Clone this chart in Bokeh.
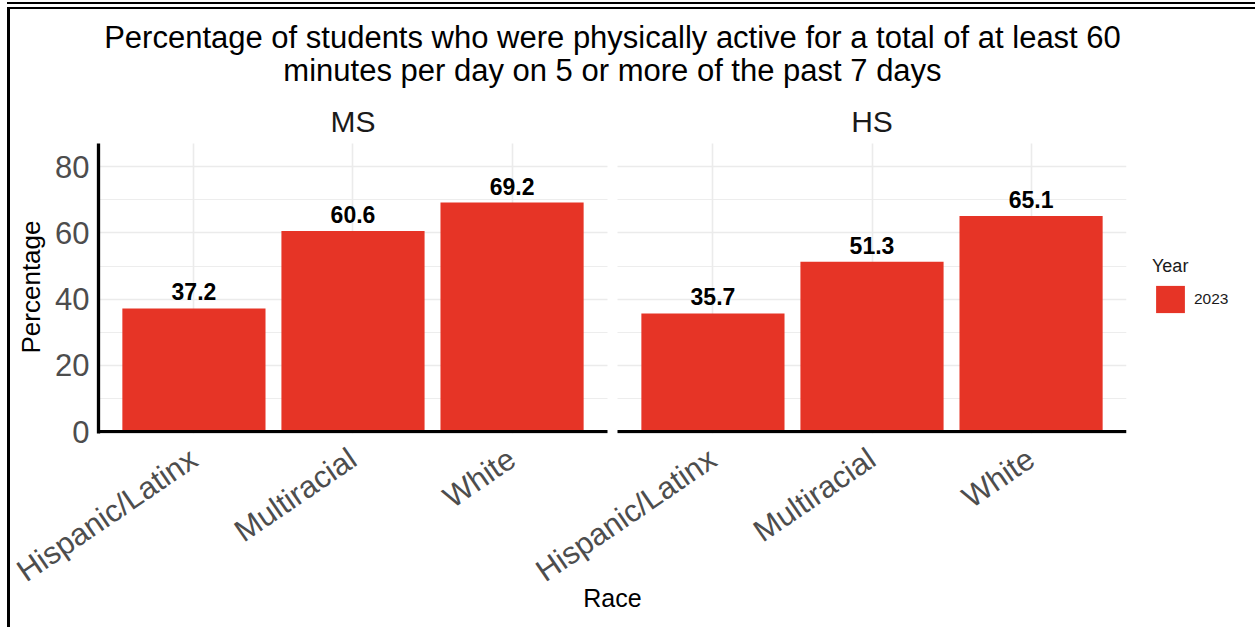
from bokeh.plotting import figure
from bokeh.layouts import column
from bokeh.models import (FactorRange, Range1d, ColumnDataSource, LabelSet, Legend,
                          LegendItem, FixedTicker, Title)
from bokeh.core.properties import value
from bokeh.embed import file_html
from bokeh.resources import INLINE

# ---------------- data ----------------
title_lines = ["Percentage of students who were physically active for a total of at least 60",
               "minutes per day on 5 or more of the past 7 days"]
panels = ["MS", "HS"]
races = ["Hispanic/Latinx", "Multiracial", "White"]
ms_values = [37.2, 60.6, 69.2]
hs_values = [35.7, 51.3, 65.1]
year_label = "2023"
legend_title = "Year"
x_title = "Race"
y_title = "Percentage"
y_ticks = [0, 20, 40, 60, 80]
y_minor_ticks = [10, 30, 50, 70]
y_max = 87

# ---------------- style / layout ----------------
FONT = "Liberation Sans"
BAR = "#E63426"
GRID = "#EBEBEB"
TICK_TXT = "#4D4D4D"

B_LEFT, B_RIGHT, B_BOTTOM = 87, 125, 194
FRAME_W, FRAME_H = 1028, 424
Y_START, Y_END = -0.55, 127.48     # frame also holds title + strip area (masked white)
PANEL_EXPAND = 0.6                 # ggplot discrete expansion (category units)
GAP = 0.263                        # facet spacing (category units)
MID = (panels[0], races[-1], (1 + GAP) / 2)   # horizontal centre of the two panels

factors = [(pn, rc) for pn in panels for rc in races]
values = ms_values + hs_values

x_range = FactorRange(*factors, factor_padding=0, group_padding=GAP,
                      range_padding=PANEL_EXPAND - 0.5, range_padding_units="absolute")
y_range = Range1d(Y_START, Y_END)

p = figure(frame_width=FRAME_W, frame_height=FRAME_H, x_range=x_range, y_range=y_range,
           title=None, toolbar_location=None, output_backend="svg",
           min_border_left=B_LEFT, min_border_right=B_RIGHT,
           min_border_top=0, min_border_bottom=B_BOTTOM)
p.outline_line_color = None

# grid
ticker = FixedTicker(ticks=y_ticks, minor_ticks=y_minor_ticks)
p.yaxis.ticker = ticker
p.ygrid.ticker = ticker
p.ygrid.grid_line_color = GRID
p.ygrid.grid_line_width = 1.6
p.ygrid.minor_grid_line_color = GRID
p.ygrid.minor_grid_line_width = 0.9
p.xgrid.grid_line_color = GRID
p.xgrid.grid_line_width = 1.6

# white masks: gap between facets, and strip/title area above the panels
left_edge = (panels[0], races[0], -PANEL_EXPAND - 1)
right_edge = (panels[-1], races[-1], PANEL_EXPAND + 1)
p.quad(left=[(panels[0], races[-1], PANEL_EXPAND), left_edge],
       right=[(panels[1], races[0], -PANEL_EXPAND), right_edge],
       bottom=[Y_START, y_max], top=[Y_END, Y_END], fill_color="white", line_color=None)

# bars
src = ColumnDataSource(dict(x=factors, top=values, label=[f"{v:.1f}" for v in values]))
bars = p.vbar(x="x", top="top", width=0.9, source=src, fill_color=BAR, line_color=None)
p.add_layout(LabelSet(x="x", y="top", text="label", source=src, text_align="center",
                      text_baseline="alphabetic", y_offset=8, text_font=value(FONT),
                      text_font_size="23px", text_font_style="bold", text_color="black"))

# per-panel x axis lines
p.segment(x0=[(pn, races[0], -PANEL_EXPAND) for pn in panels],
          x1=[(pn, races[-1], PANEL_EXPAND) for pn in panels],
          y0=[0, 0], y1=[0, 0], line_color="black", line_width=3.3, line_cap="butt")

# axes
for ax in p.axis:
    ax.major_tick_line_color = None
    ax.minor_tick_line_color = None
    ax.major_tick_out = 0
    ax.minor_tick_out = 0
    ax.major_label_text_font = FONT
    ax.major_label_text_font_size = "31px"
    ax.major_label_text_color = TICK_TXT
p.xaxis.axis_line_color = None
p.xaxis.major_label_orientation = 0.6
p.xaxis.major_label_standoff = 22
p.xaxis.group_text_font_size = "0px"
p.xaxis.group_text_color = None
p.xaxis.separator_line_color = None
p.xaxis.axis_label = x_title
p.xaxis.axis_label_text_font = FONT
p.xaxis.axis_label_text_font_size = "25px"
p.xaxis.axis_label_text_font_style = "normal"
p.xaxis.axis_label_text_color = "black"
p.xaxis.axis_label_standoff = -22
p.yaxis.bounds = (Y_START, y_max)
p.yaxis.axis_line_width = 3.3
p.yaxis.axis_line_color = "black"
p.yaxis.major_label_standoff = 9

# y-axis title, centred on the panels (not on the whole frame)
p.add_layout(Title(text=y_title, align="left", offset=80, standoff=10,
                   vertical_align="top", text_font=FONT, text_font_size="26px",
                   text_font_style="normal", text_color="black"), "left")

# facet strip labels
strip_src = ColumnDataSource(dict(x=[(pn, races[1]) for pn in panels], y=[y_max] * len(panels),
                                  text=panels))
p.add_layout(LabelSet(x="x", y="y", text="text", source=strip_src, text_align="center",
                      text_baseline="alphabetic", y_offset=12, text_font=value(FONT),
                      text_font_size="30px", text_color="#1A1A1A"))

# two-line title above the panels
title_src = ColumnDataSource(dict(x=[MID] * len(title_lines), y=[y_max] * len(title_lines),
                                  dy=[96, 63], text=title_lines))
p.add_layout(LabelSet(x="x", y="y", text="text", y_offset="dy", source=title_src,
                      text_align="center", text_baseline="alphabetic", text_font=value(FONT),
                      text_font_size="31px", text_color="black"))

# legend (to the right of the HS panel); glyph box is 80% of glyph area
legend = Legend(items=[LegendItem(label=year_label, renderers=[bars])], title=legend_title,
                location=(26, 117), margin=0, padding=0,
                border_line_color=None, background_fill_alpha=0, glyph_width=36, glyph_height=34,
                label_standoff=6, label_text_font=FONT, label_text_font_size="15.5px",
                label_text_color="#1A1A1A", title_text_font=FONT, title_text_font_size="18px",
                title_text_font_style="normal", title_text_color="#1A1A1A", title_standoff=5)
p.add_layout(legend, "right")

# framed page (thin double line on top, border left/right like the original screenshot)
layout = column(p, styles={"margin": "7px 0 0 7px",
                           "border-top": "2px solid black",
                           "border-left": "3px solid black",
                           "border-right": "3px solid black",
                           "box-shadow": "0 -3px 0 0 white, 0 -5px 0 0 black"})

open("out.html", "w").write(file_html(layout, INLINE))
